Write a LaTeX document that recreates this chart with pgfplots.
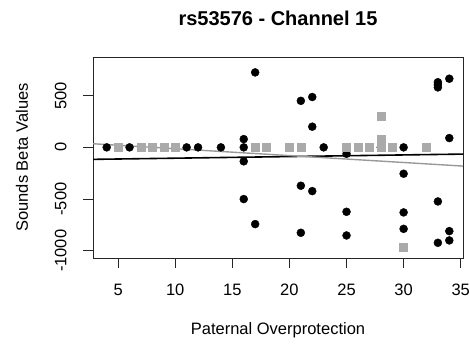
\documentclass[border=0pt]{standalone}
\usepackage{pgfplots}
\pgfplotsset{compat=1.18}
\usepackage{fontspec}
\setmainfont{Liberation Sans}
\definecolor{ptgrey}{RGB}{170,170,170}
\newcommand{\rl}[1]{\rotatebox{90}{#1}}
\begin{document}
\begin{tikzpicture}
\path[use as bounding box] (0pt,0pt) rectangle (470pt,345pt);
\begin{axis}[at={(93pt,87pt)}, anchor=south west, scale only axis,
  width=370pt, height=201pt,
  xmin=2.8, xmax=35.2, ymin=-1070, ymax=874,
  axis line style={line width=0.8pt, black!85},
  tick style={line width=0.8pt, black!85},
  tick align=outside, major tick length=10pt,
  xtick pos=left, ytick pos=left,
  xtick={5,10,15,20,25,30,35},
  xticklabels={5,10,15,20,25,30,35},
  ytick={-1000,-500,0,500},
  yticklabels={\rl{-1000},\rl{-500},\rl{0},\rl{500}},
  xticklabel style={font=\fontsize{16.5}{19}\selectfont, anchor=base},
  xticklabel shift=27.7pt,
  yticklabel style={font=\fontsize{16.5}{19}\selectfont, anchor=east, inner sep=0pt},
  yticklabel shift=16.3pt,
  xlabel={Paternal Overprotection},
  ylabel={Sounds Beta Values},
  every axis x label/.style={font=\fontsize{16.5}{19}\selectfont, at={(axis description cs:0.5,-0.383)}, anchor=base},
  every axis y label/.style={font=\fontsize{16.5}{19}\selectfont, at={(axis description cs:-0.1757,0.5)}, rotate=90, anchor=base},
  title={rs53576 - Channel 15},
  every axis title/.style={font=\bfseries\fontsize{20}{24}\selectfont, at={(axis description cs:0.5,1.159)}, anchor=base},
  clip=true,
]
\addplot[only marks, mark=*, mark size=4pt, mark options={fill=black, draw=black}] coordinates {
(4,0) (6,0) (11,0) (12,0) (14,0)
(16,80) (16,0) (16,-135) (16,-500)
(17,725) (17,-742)
(21,450) (21,-371) (21,-826)
(22,487) (22,200) (22,-423)
(23,0)
(25,-62) (25,-623) (25,-852)
(28,0)
(30,0) (30,-255) (30,-629) (30,-788)
(33,630) (33,605) (33,580) (33,-523) (33,-923)
(34,664) (34,90) (34,-810) (34,-900)
};
\addplot[only marks, mark=square*, mark size=4pt, mark options={fill=ptgrey, draw=ptgrey}] coordinates {
(5,0) (7,0) (8,0) (9,0) (10,0)
(17,0) (18,0) (20,0) (21,0)
(25,0) (26,0) (27,0)
(28,0) (28,40) (28,75) (28,303)
(29,0) (30,-962) (32,0)
};
\addplot[black, line width=1.6pt] coordinates {(2.8,-116) (35.2,-65)};
\addplot[ptgrey!90!black, line width=1.4pt] coordinates {(2.8,35) (35.2,-181)};
\end{axis}
\end{tikzpicture}
\end{document}
